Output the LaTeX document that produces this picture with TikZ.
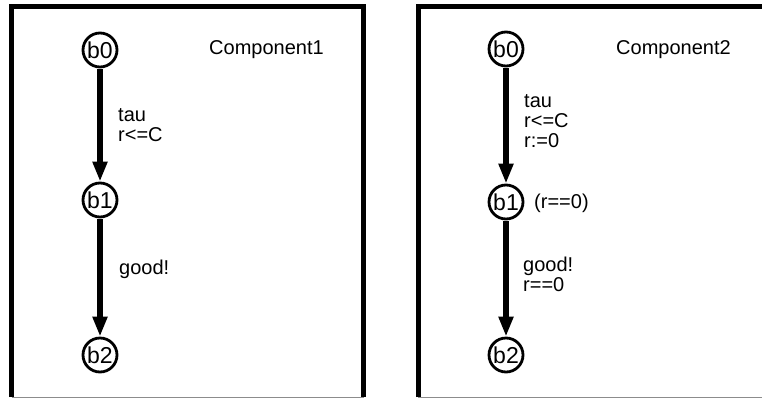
\documentclass[tikz,border=0pt]{standalone}
\usepackage{fontspec}
\setmainfont{Liberation Sans}
\usetikzlibrary{arrows.meta}
\tikzset{
  loc/.style={circle, draw, line width=2.8pt, minimum size=34pt, inner sep=0pt,
              font=\fontsize{23}{25}\selectfont},
  trans/.style={line width=5.2pt, -{Triangle[length=20pt,width=14pt]}, shorten <=1pt},
  lbl/.style={anchor=base west, align=left, inner sep=0pt,
              font=\fontsize{20}{19.8}\selectfont},
  frame/.style={line width=5pt, line join=miter},
  framebase/.style={line width=1pt, draw=black!45}
}
\begin{document}
\begin{tikzpicture}[x=1pt,y=-1pt]
\useasboundingbox (0,0) rectangle (762,399);
% frames
\draw[frame] (11.5,397) -- (11.5,6) -- (363.5,6) -- (363.5,397);
\draw[framebase] (11.5,397.5) -- (363.5,397.5);
\draw[frame] (418,397) -- (418,6) -- (775,6);
\draw[framebase] (418,397.5) -- (775,397.5);
% Component1
\node[lbl] (c1) at (209,54) {Component1};
\node[loc] (a0) at (100,50) {b0};
\node[loc] (a1) at (100,200) {b1};
\node[loc] (a2) at (100,355) {b2};
\draw[trans] (a0) -- (a1);
\draw[trans] (a1) -- (a2);
\node[lbl] (l1) at (118,141) {tau\\r<=C};
\node[lbl] (l2) at (119,274) {good!};
% Component2
\node[lbl] (c2) at (616,54) {Component2};
\node[loc] (b0) at (506,49) {b0};
\node[loc] (b1) at (506,202) {b1};
\node[loc] (b2) at (506,355) {b2};
\draw[trans] (b0) -- (b1);
\draw[trans] (b1) -- (b2);
\node[lbl] (m1) at (524,147) {tau\\r<=C\\r:=0};
\node[lbl] (inv) at (534,208) {(r==0)};
\node[lbl] (m2) at (523,291) {good!\\r==0};
\end{tikzpicture}
\end{document}
